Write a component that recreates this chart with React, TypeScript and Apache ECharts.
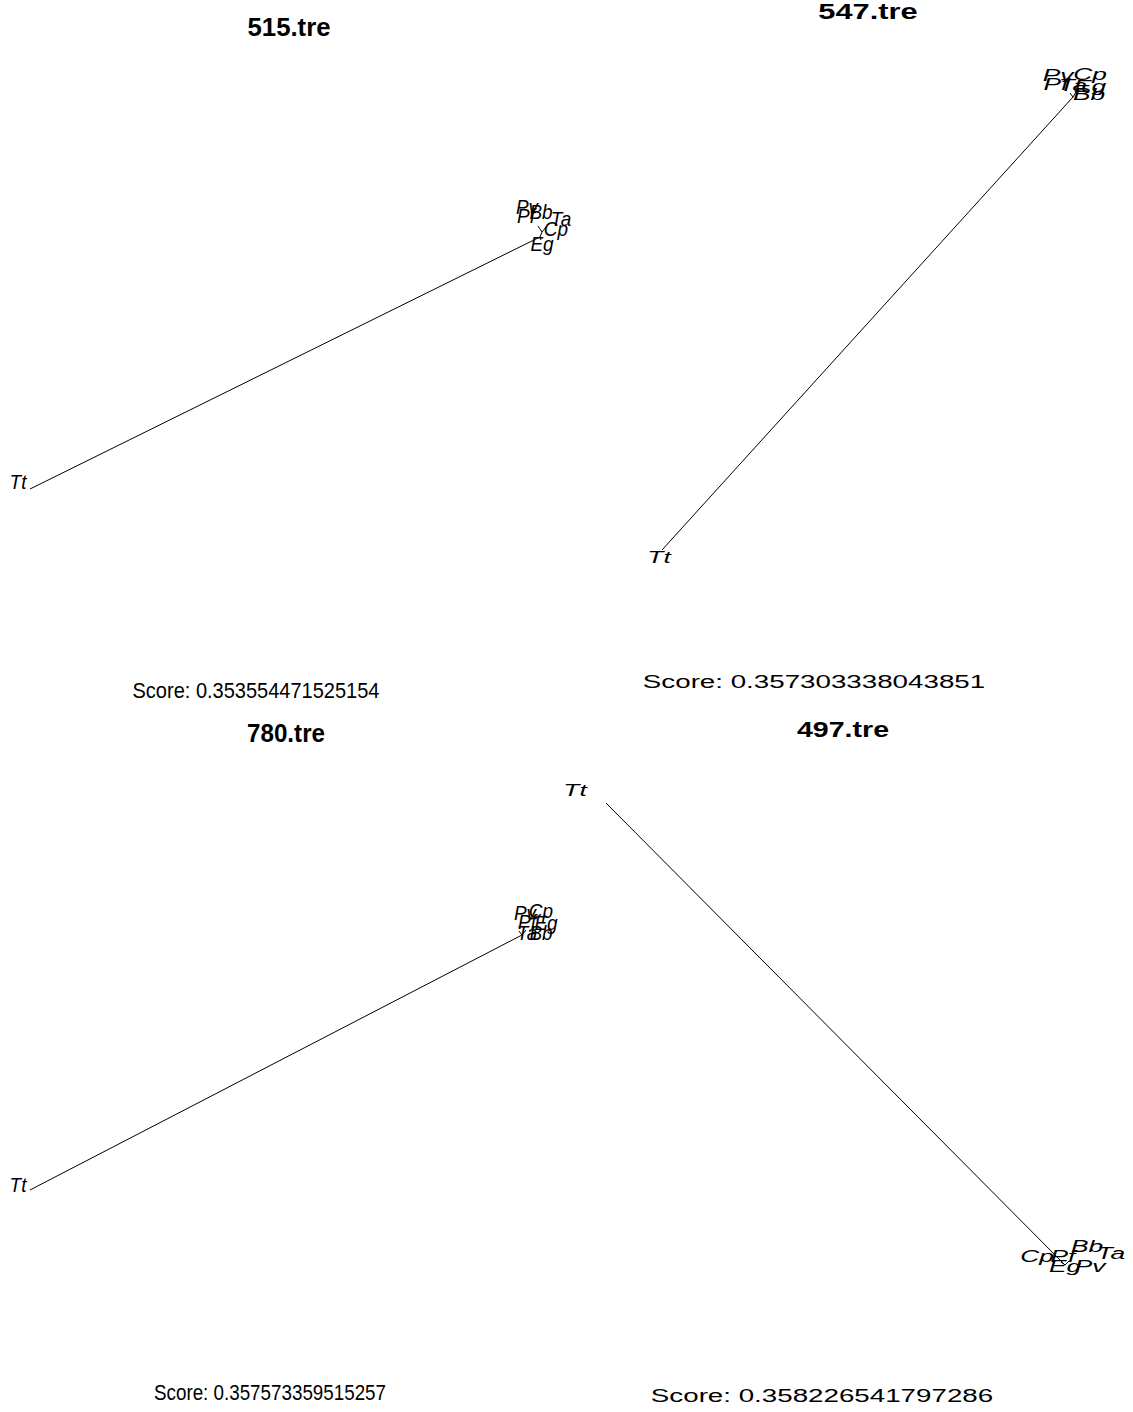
import React, { useEffect, useRef } from "react";
import * as echarts from "echarts";

// ---- Data (panel-local layout units) ----
const panelTitles = ["515.tre", "547.tre", "780.tre", "497.tre"];
const panelScores = [
  "Score: 0.353554471525154",
  "Score: 0.357303338043851",
  "Score: 0.357573359515257",
  "Score: 0.358226541797286",
];

// Tip labels of each tree and their (x, y) positions
const tips515 = ["Tt", "Pv", "Pf", "Bb", "Ta", "Cp", "Eg"];
const tipX515 = [18, 527, 526, 541, 561, 556, 542];
const tipY515 = [482, 207, 216, 212, 219, 229, 244];
const edges515 = [
  [30, 489, 540, 237],
  [540, 237, 542, 232],
  [542, 232, 538, 226],
  [542, 232, 546, 227],
  [540, 237, 541, 240],
];

const tips547 = ["Tt", "Pv", "Cp", "Pf", "Ta", "Eg", "Bb"];
const tipX547 = [93, 492, 524, 490, 507, 524, 523];
const tipY547 = [557, 75, 74, 84, 85, 86, 94];
const edges547 = [
  [96, 550, 507, 97],
  [507, 97, 510, 92],
  [507, 97, 504, 93],
];

const tips780 = ["Tt", "Pv", "Cp", "Pf", "Eg", "Ta", "Bb"];
const tipX780 = [18, 525, 541, 527, 546, 527, 541];
const tipY780 = [479, 207, 205, 216, 217, 227, 227];
const edges780 = [
  [30, 484, 522, 229],
  [522, 229, 526, 224],
  [522, 229, 519, 225],
];

const tips497 = ["Tt", "Bb", "Ta", "Cp", "Pf", "Eg", "Pv"];
const tipX497 = [9, 521, 545, 471, 497, 499, 524];
const tipY497 = [84, 540, 547, 550, 550, 560, 560];
const edges497 = [
  [40, 97, 499, 559],
  [499, 559, 503, 555],
  [499, 559, 495, 556],
];

const allTips = [tips515, tips547, tips780, tips497];
const allTipX = [tipX515, tipX547, tipX780, tipX497];
const allTipY = [tipY515, tipY547, tipY780, tipY497];
const allEdges = [edges515, edges547, edges780, edges497];

// ---- Layout / style ----
const W = 1133;
const H = 1412;
const PH = 706;
const FONT = "'Liberation Sans', Arial, Helvetica, sans-serif";

// per panel: [left, top, width]
const panelBoxes = [
  [0, 0, 566],
  [566, 0, 567],
  [0, 706, 566],
  [566, 706, 567],
];
const tipFontSize = [20, 17, 20, 17];
const tipScaleX = [0.95, 1.55, 0.95, 1.55];

// title / score placement (absolute): x, y, fontSize, scaleX
const titlePos = [
  [289, 27, 26, 0.99],
  [868, 12, 22, 1.4],
  [286, 733, 26, 0.93],
  [843, 729, 22, 1.3],
];
const scorePos = [
  [256, 690, 22, 0.91],
  [814, 681, 19, 1.46],
  [270, 1392, 22, 0.855],
  [822, 1395, 19, 1.46],
];

export default function App() {
  const ref = useRef<HTMLDivElement>(null);

  useEffect(() => {
    if (!ref.current) return;
    const chart = echarts.init(ref.current, null, { renderer: "svg" });

    const grid: any[] = [];
    const xAxis: any[] = [];
    const yAxis: any[] = [];
    const series: any[] = [];
    const graphic: any[] = [];

    panelBoxes.forEach((b, i) => {
      grid.push({ left: b[0], top: b[1], width: b[2], height: PH, containLabel: false });
      xAxis.push({ type: "value", gridIndex: i, min: 0, max: b[2], show: false });
      yAxis.push({ type: "value", gridIndex: i, min: 0, max: PH, inverse: true, show: false });

      series.push({
        type: "lines",
        coordinateSystem: "cartesian2d",
        xAxisIndex: i,
        yAxisIndex: i,
        silent: true,
        lineStyle: { color: "#000", width: 1, opacity: 1 },
        data: allEdges[i].map((e) => ({ coords: [[e[0], e[1]], [e[2], e[3]]] })),
      });

      const labels = allTips[i];
      const fs = tipFontSize[i];
      const sx = tipScaleX[i];
      series.push({
        type: "custom",
        coordinateSystem: "cartesian2d",
        xAxisIndex: i,
        yAxisIndex: i,
        silent: true,
        data: allTipX[i].map((x, k) => [x, allTipY[i][k]]),
        renderItem: (params: any, api: any) => {
          const p = api.coord([api.value(0), api.value(1)]);
          return {
            type: "text",
            x: p[0],
            y: p[1],
            scaleX: sx,
            style: {
              text: labels[params.dataIndex],
              fontFamily: FONT,
              fontSize: fs,
              fontStyle: "italic",
              fill: "#000",
              align: "center",
              verticalAlign: "middle",
            },
          };
        },
      });
    });

    titlePos.forEach((t, i) => {
      graphic.push({
        type: "text",
        x: t[0],
        y: t[1],
        scaleX: t[3],
        style: {
          text: panelTitles[i],
          fontFamily: FONT,
          fontSize: t[2],
          fontWeight: "bold",
          fill: "#000",
          align: "center",
          verticalAlign: "middle",
        },
      });
    });
    scorePos.forEach((t, i) => {
      graphic.push({
        type: "text",
        x: t[0],
        y: t[1],
        scaleX: t[3],
        style: {
          text: panelScores[i],
          fontFamily: FONT,
          fontSize: t[2],
          fill: "#000",
          align: "center",
          verticalAlign: "middle",
        },
      });
    });

    chart.setOption({
      animation: false,
      backgroundColor: "#fff",
      grid,
      xAxis,
      yAxis,
      series,
      graphic,
    });

    return () => chart.dispose();
  }, []);

  return (
    <div
      ref={ref}
      style={{ position: "absolute", left: 0, top: 0, width: W, height: H }}
    />
  );
}
